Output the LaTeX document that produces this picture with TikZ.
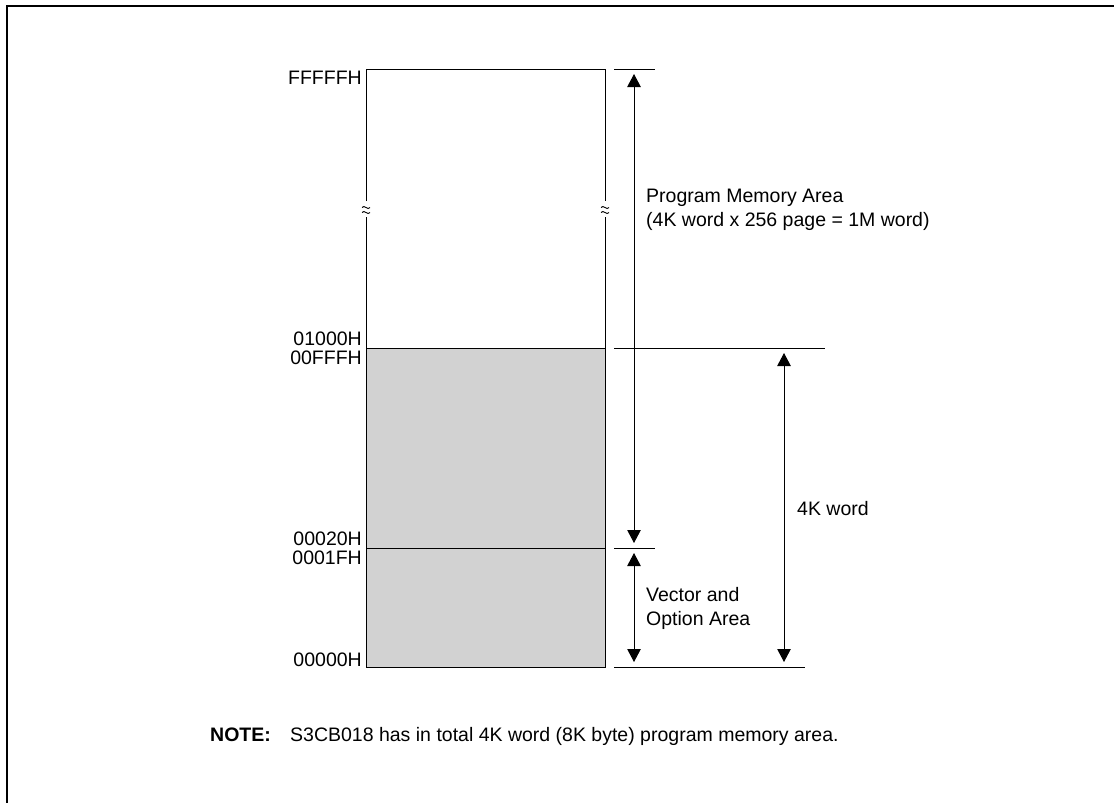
\documentclass[tikz,border=0pt]{standalone}
\usepackage{fontspec}
\setmainfont{Liberation Sans}
\usetikzlibrary{arrows.meta}
\definecolor{memgray}{RGB}{210,210,210}
\begin{document}
\begin{tikzpicture}[x=1pt,y=-1pt,
  lbl/.style={font=\fontsize{19.5}{24}\selectfont, inner sep=0pt},
  addr/.style={lbl, anchor=base east},
  txt/.style={lbl, anchor=base west},
  dim/.style={line width=1pt, {Triangle[width=13.5pt,length=13pt]}-{Triangle[width=13.5pt,length=13pt]}, shorten >=5pt, shorten <=5pt},
  tick/.style={line width=1pt},
  brk/.style={line width=0.9pt}]
\useasboundingbox (0,0) rectangle (1114,803);
% frame
\draw[line width=2.3pt] (7,803) -- (7,6) -- (1114,6);
% gray region
\fill[memgray] (366,348) rectangle (605,667);
% box outline with breaks
\coordinate (tl) at (366,69);
\coordinate (tr) at (605,69);
\coordinate (bl) at (366,667);
\coordinate (br) at (605,667);
\draw[tick] (366,201) -- (tl) -- (tr) -- (605,201);
\draw[tick] (366,217) -- (bl) -- (br) -- (605,217);
\draw[tick] (366,348) -- (605,348);
\draw[tick] (366,548) -- (605,548);
\foreach \x in {366,605}{
  \draw[brk] (\x-4,207.5) .. controls (\x-1.5,204) and (\x+1.5,211) .. (\x+4,207.5);
  \draw[brk] (\x-4,212.5) .. controls (\x-1.5,209) and (\x+1.5,216) .. (\x+4,212.5);
}
% extension lines
\coordinate (t1a) at (614,69);  \coordinate (t1b) at (655,69);
\coordinate (t2a) at (614,348); \coordinate (t2b) at (825,348);
\coordinate (t3a) at (614,548); \coordinate (t3b) at (655,548);
\coordinate (t4a) at (614,667); \coordinate (t4b) at (805,667);
\draw[tick] (t1a) -- (t1b);
\draw[tick] (t2a) -- (t2b);
\draw[tick] (t3a) -- (t3b);
\draw[tick] (t4a) -- (t4b);
% dimension arrows
\coordinate (a1) at (634,69);  \coordinate (a2) at (634,548);
\coordinate (a3) at (634,667);
\coordinate (b1) at (784,348); \coordinate (b2) at (784,667);
\draw[dim] (a1) -- (a2);
\draw[dim] (a2) -- (a3);
\draw[dim] (b1) -- (b2);
% addresses
\node[addr] (n1) at (362,84) {FFFFFH};
\node[addr] (n2) at (362,345) {01000H};
\node[addr] (n3) at (362,364) {00FFFH};
\node[addr] (n4) at (362,545) {00020H};
\node[addr] (n5) at (362,564) {0001FH};
\node[addr] (n6) at (362,666) {00000H};
% labels
\node[txt] (pm1) at (646,202) {Program Memory Area};
\node[txt] (pm2) at (646,226) {(4K word x 256 page = 1M word)};
\node[txt] (kw) at (797,515) {4K word};
\node[txt] (va1) at (646,601) {Vector and};
\node[txt] (va2) at (646,625) {Option Area};
\node[txt] (note) at (210,741) {\textbf{NOTE:}};
\node[txt] (notetxt) at (290,741) {S3CB018 has in total 4K word (8K byte) program memory area.};
\end{tikzpicture}
\end{document}
